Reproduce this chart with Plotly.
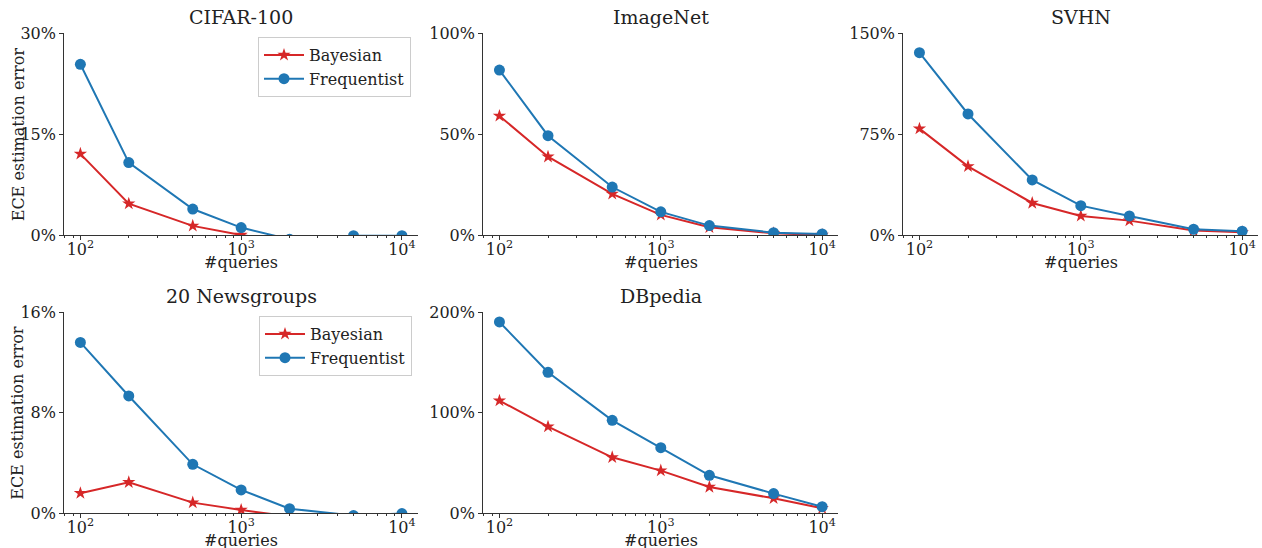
import plotly.graph_objects as go

queries = [100, 200, 500, 1000, 2000, 5000, 10000]

cifar_bayes = [12.1, 4.7, 1.4, 0.05, -1.0, -1.5, -1.5]
cifar_freq = [25.4, 10.8, 3.9, 1.15, -0.6, -0.05, -0.05]
imagenet_bayes = [59.1, 38.9, 20.5, 10.1, 4.0, 1.0, 0.2]
imagenet_freq = [81.8, 49.3, 23.9, 11.6, 4.8, 1.3, 0.7]
svhn_bayes = [79.2, 51.2, 24.0, 14.4, 10.9, 3.5, 2.2]
svhn_freq = [135.6, 90.1, 41.1, 22.0, 14.4, 4.5, 3.0]
news_bayes = [1.6, 2.47, 0.85, 0.27, -0.25, -0.3, -0.2]
news_freq = [13.6, 9.34, 3.9, 1.86, 0.37, -0.18, -0.02]
dbpedia_bayes = [112.1, 86.2, 55.7, 42.5, 26.2, 14.9, 5.0]
dbpedia_freq = [190.4, 140.3, 92.5, 65.3, 37.8, 19.6, 6.6]

titles = ["CIFAR-100", "ImageNet", "SVHN", "20 Newsgroups", "DBpedia"]
y_max = [30, 100, 150, 16, 200]
y_ticks = [[0, 15, 30], [0, 50, 100], [0, 75, 150], [0, 8, 16], [0, 100, 200]]
series = [
    (cifar_bayes, cifar_freq),
    (imagenet_bayes, imagenet_freq),
    (svhn_bayes, svhn_freq),
    (news_bayes, news_freq),
    (dbpedia_bayes, dbpedia_freq),
]

W, H = 1262, 548
RED = "#d62728"
BLUE = "#1f77b4"
AX = "#333333"
FONT = "DejaVu Serif"

# pixel boxes (left, right, top, bottom)
col_x = [(64.3, 418.0), (483.3, 838.3), (903.3, 1258.3)]
row_y = [(33.3, 235.3), (312.3, 513.3)]
positions = [(0, 0), (0, 1), (0, 2), (1, 0), (1, 1)]

fig = go.Figure()
annotations = []

minor_vals = [m * 10 ** e for e in (1, 2, 3, 4) for m in range(2, 10)]

for i, (title, ymax, yt, (bay, freq), (r, c)) in enumerate(
        zip(titles, y_max, y_ticks, series, positions)):
    n = i + 1
    xa = "x" if n == 1 else f"x{n}"
    ya = "y" if n == 1 else f"y{n}"
    xl, xr = col_x[c]
    yt_px, yb_px = row_y[r]
    xdom = [xl / W, xr / W]
    ydom = [1 - yb_px / H, 1 - yt_px / H]

    show = c == 0
    leg = "legend" if r == 0 else "legend2"

    fig.add_trace(go.Scatter(
        x=queries, y=bay, mode="lines+markers", name="Bayesian",
        line=dict(color=RED, width=2),
        marker=dict(symbol="star", size=10, color=RED),
        xaxis=xa, yaxis=ya, showlegend=show, legend=leg,
    ))
    fig.add_trace(go.Scatter(
        x=queries, y=freq, mode="lines+markers", name="Frequentist",
        line=dict(color=BLUE, width=2),
        marker=dict(symbol="circle", size=11, color=BLUE),
        xaxis=xa, yaxis=ya, showlegend=show, legend=leg,
    ))

    xkey = "xaxis" if n == 1 else f"xaxis{n}"
    ykey = "yaxis" if n == 1 else f"yaxis{n}"
    fig.update_layout(**{
        xkey: dict(
            domain=xdom, anchor=ya, type="log", range=[1.9, 4.1],
            tickmode="array",
            tickvals=[100, 1000, 10000],
            ticktext=["10<sup>2</sup>", "10<sup>3</sup>", "10<sup>4</sup>"],
            ticks="outside", ticklen=4, tickwidth=1, tickcolor=AX,
            showline=True, linecolor=AX, linewidth=1.2,
            showgrid=False, zeroline=False, automargin=False,
            ticklabelstandoff=-5,
            tickfont=dict(family=FONT, size=16, color="#222"),
            minor=dict(tickvals=minor_vals, ticks="outside", ticklen=2,
                       tickwidth=1, tickcolor=AX, showgrid=False),
        ),
        ykey: dict(
            domain=ydom, anchor=xa, range=[0, ymax],
            tickmode="array",
            tickvals=yt, ticktext=[f"{v}%" for v in yt],
            ticks="outside", ticklen=4, tickwidth=1, tickcolor=AX,
            showline=True, linecolor=AX, linewidth=1.2,
            showgrid=False, zeroline=False, automargin=False,
            tickfont=dict(family=FONT, size=16, color="#222"),
        ),
    })

    xc = (xl + xr) / 2 / W
    annotations.append(dict(
        text=title, x=xc, y=1 - (yt_px - 16) / H, xref="paper", yref="paper",
        xanchor="center", yanchor="middle", showarrow=False,
        font=dict(family=FONT, size=19, color="#222"),
    ))
    annotations.append(dict(
        text="#queries", x=xc, y=1 - (yb_px + 27) / H, xref="paper", yref="paper",
        xanchor="center", yanchor="middle", showarrow=False,
        font=dict(family=FONT, size=16, color="#222"),
    ))
    if c == 0:
        annotations.append(dict(
            text="ECE estimation error", x=18 / W, y=1 - (yt_px + yb_px) / 2 / H,
            xref="paper", yref="paper", xanchor="center", yanchor="middle",
            textangle=-90, showarrow=False,
            font=dict(family=FONT, size=16, color="#222"),
        ))

legend_style = dict(
    xanchor="left", yanchor="top", bgcolor="rgba(255,255,255,0.8)",
    bordercolor="#cccccc", borderwidth=1,
    font=dict(family=FONT, size=16, color="#222"),
    itemwidth=40, tracegroupgap=0,
)
fig.update_layout(
    width=W, height=H,
    margin=dict(l=0, r=0, t=0, b=0, autoexpand=False),
    paper_bgcolor="white", plot_bgcolor="white",
    font=dict(family=FONT, size=16, color="#222"),
    annotations=annotations,
    legend=dict(x=258 / W, y=1 - 37 / H, **legend_style),
    legend2=dict(x=259 / W, y=1 - 316 / H, **legend_style),
)

fig.write_html("out.html")
